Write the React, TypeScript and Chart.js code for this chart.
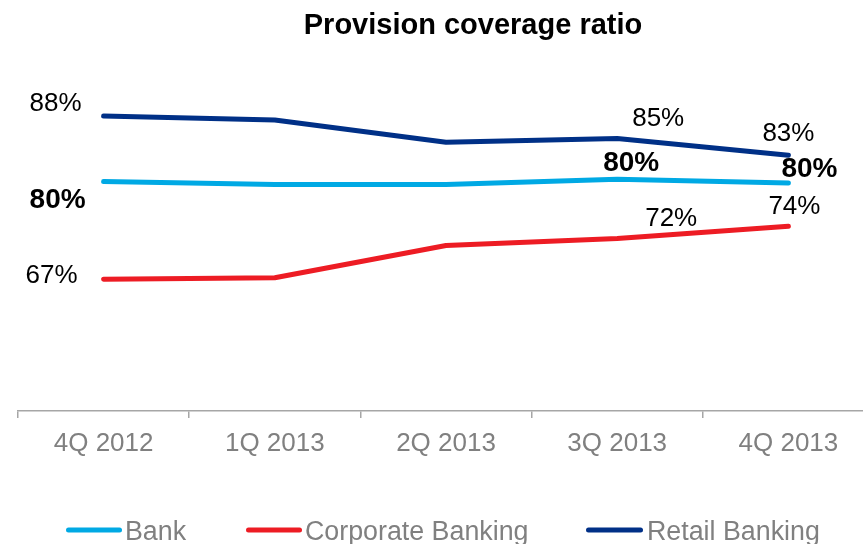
import React, { useEffect, useRef } from "react";
import { Chart, registerables } from "chart.js";

Chart.register(...registerables);

const FONT = "'Liberation Sans', Arial, sans-serif";

const title = "Provision coverage ratio";
const categories = ["4Q 2012", "1Q 2013", "2Q 2013", "3Q 2013", "4Q 2013"];
const seriesNames = ["Bank", "Corporate Banking", "Retail Banking"];
const bankValues = [79.8, 79.4, 79.4, 80.1, 79.6];
const corporateValues = [67.1, 67.3, 71.5, 72.4, 74.0];
const retailValues = [88.3, 87.8, 84.9, 85.4, 83.2];
const labelIndices = [0, 3, 4];

const COLORS = ["#00A9E4", "#ED1C24", "#003087"];

// label placement relative to the point: [dx, baseline dy]
const LABEL_LAYOUT = [
  { bold: true, size: 28, offsets: [[-46, 26], [14, -8], [21, -6]] },
  { bold: false, size: 26, offsets: [[-52, 4], [54, -13], [6, -12]] },
  { bold: false, size: 26, offsets: [[-48, -5], [41, -12], [0, -14]] },
];

const LEGEND_LAYOUT = [
  { x1: 66, x2: 122, tx: 125 },
  { x1: 246, x2: 302, tx: 305 },
  { x1: 586, x2: 643, tx: 647 },
];

const overlayPlugin = {
  id: "overlay",
  afterDraw(chart: any) {
    const ctx = chart.ctx as CanvasRenderingContext2D;
    ctx.save();
    // data labels
    chart.data.datasets.forEach((ds: any, i: number) => {
      const meta = chart.getDatasetMeta(i);
      const lay = LABEL_LAYOUT[i];
      labelIndices.forEach((j, k) => {
        const pt = meta.data[j];
        const v = ds.data[j] as number;
        ctx.font = `${lay.bold ? "bold " : ""}${lay.size}px ${FONT}`;
        ctx.fillStyle = "#000000";
        ctx.textAlign = "center";
        ctx.textBaseline = "alphabetic";
        ctx.fillText(Math.round(v) + "%", pt.x + lay.offsets[k][0], pt.y + lay.offsets[k][1]);
      });
    });
    // title
    ctx.font = `bold 29px ${FONT}`;
    ctx.fillStyle = "#000000";
    ctx.textAlign = "center";
    ctx.textBaseline = "alphabetic";
    ctx.fillText(title, 473, 34);
    // legend
    chart.data.datasets.forEach((ds: any, i: number) => {
      const l = LEGEND_LAYOUT[i];
      ctx.strokeStyle = ds.borderColor;
      ctx.lineWidth = 5;
      ctx.lineCap = "round";
      ctx.beginPath();
      ctx.moveTo(l.x1 + 2.5, 530);
      ctx.lineTo(l.x2 - 2.5, 530);
      ctx.stroke();
      ctx.font = `26.8px ${FONT}`;
      ctx.fillStyle = "#808080";
      ctx.textAlign = "left";
      ctx.fillText(ds.label, l.tx, 540);
    });
    ctx.restore();
  },
};

export default function App() {
  const ref = useRef<HTMLCanvasElement>(null);
  useEffect(() => {
    if (!ref.current) return;
    const seriesValues = [bankValues, corporateValues, retailValues];
    const chart = new Chart(ref.current, {
      type: "line",
      data: {
        labels: categories,
        datasets: seriesNames.map((name, i) => ({
          label: name,
          data: seriesValues[i],
          borderColor: COLORS[i],
          backgroundColor: COLORS[i],
          borderWidth: 5,
          borderCapStyle: "round",
          borderJoinStyle: "round",
          pointRadius: 0,
          tension: 0,
          fill: false,
        })),
      },
      options: {
        responsive: false,
        animation: false,
        devicePixelRatio: 1,
        layout: { padding: { left: 18, right: 26, top: 26, bottom: 0 } },
        plugins: {
          legend: { display: false },
          title: { display: false },
          tooltip: { enabled: false },
        },
        scales: {
          x: {
            offset: true,
            grid: {
              offset: true,
              drawOnChartArea: false,
              drawTicks: true,
              tickLength: 7,
              color: "#A6A6A6",
              lineWidth: 1.5,
            },
            border: { display: true, color: "#A6A6A6", width: 1.5 },
            ticks: {
              color: "#808080",
              font: { family: FONT, size: 26 },
              padding: 10,
              maxRotation: 0,
              autoSkip: false,
            },
            afterFit: (scale: any) => {
              scale.height = 133;
            },
          },
          y: { display: false, min: 50, max: 100 },
        },
      },
      plugins: [overlayPlugin],
    } as any);
    return () => chart.destroy();
  }, []);
  return (
    <div
      style={{
        position: "absolute",
        left: 0,
        top: 0,
        width: 863,
        height: 544,
        overflow: "hidden",
        background: "#ffffff",
      }}
    >
      <canvas ref={ref} width={900} height={544} style={{ display: "block" }} />
    </div>
  );
}
